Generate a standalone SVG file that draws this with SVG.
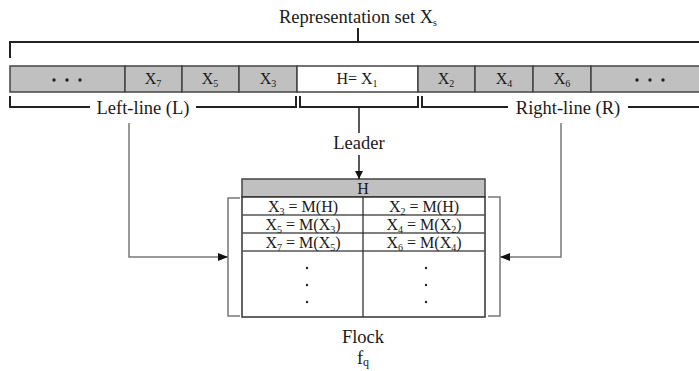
<svg xmlns="http://www.w3.org/2000/svg" width="699" height="371" viewBox="0 0 699 371">
<style>
.t{font-family:"Liberation Serif","Times New Roman",serif;fill:#1a1a1a}
.lbl{font-size:18.5px}
.c{font-size:16px}
.s{font-size:10px}
.br{fill:none;stroke:#222;stroke-width:2}
.cell{fill:#c0c0c0;stroke:#444;stroke-width:1.5}
.w{fill:#fff;stroke:#444;stroke-width:1.5}
.con{fill:none;stroke:#777;stroke-width:1.5}
.tl{stroke:#555;stroke-width:1.5}
.dot{fill:#222}
</style>
<defs>
<marker id="ah" viewBox="0 0 10 10" refX="10" refY="5" markerWidth="8" markerHeight="8" markerUnits="userSpaceOnUse" orient="auto"><path d="M0,0 L10,5 L0,10 z" fill="#111"/></marker>
<marker id="ah2" viewBox="0 0 10 10" refX="10" refY="5" markerWidth="10" markerHeight="10" markerUnits="userSpaceOnUse" orient="auto"><path d="M0,1 L10,5 L0,9 z" fill="#111"/></marker>
</defs>
<g id="representation-set">
<text class="t lbl" x="358" y="23" text-anchor="middle">Representation set X<tspan class="s" dy="3">s</tspan></text>
<path class="br" d="M10,58 V42 H699 M358,28 V42"/>
</g>
<g id="bar">
<rect class="cell" x="10" y="66" width="115" height="26"/>
<circle class="dot" cx="54" cy="80" r="1.7"/><circle class="dot" cx="67" cy="80" r="1.7"/><circle class="dot" cx="80" cy="80" r="1.7"/>
<rect class="cell" x="125" y="66" width="57" height="26"/>
<text class="t c" x="153" y="84" text-anchor="middle">X<tspan class="s" dy="3">7</tspan></text>
<rect class="cell" x="182" y="66" width="57" height="26"/>
<text class="t c" x="210" y="84" text-anchor="middle">X<tspan class="s" dy="3">5</tspan></text>
<rect class="cell" x="239" y="66" width="58" height="26"/>
<text class="t c" x="268" y="84" text-anchor="middle">X<tspan class="s" dy="3">3</tspan></text>
<rect class="w" x="297" y="66" width="121" height="26"/>
<text class="t c" x="357" y="84" text-anchor="middle">H= X<tspan class="s" dy="3">1</tspan></text>
<rect class="cell" x="418" y="66" width="57" height="26"/>
<text class="t c" x="446" y="84" text-anchor="middle">X<tspan class="s" dy="3">2</tspan></text>
<rect class="cell" x="475" y="66" width="58" height="26"/>
<text class="t c" x="504" y="84" text-anchor="middle">X<tspan class="s" dy="3">4</tspan></text>
<rect class="cell" x="533" y="66" width="58" height="26"/>
<text class="t c" x="562" y="84" text-anchor="middle">X<tspan class="s" dy="3">6</tspan></text>
<rect class="cell" x="591" y="66" width="110" height="26"/>
<circle class="dot" cx="637" cy="80" r="1.7"/><circle class="dot" cx="650" cy="80" r="1.7"/><circle class="dot" cx="663" cy="80" r="1.7"/>
</g>
<g id="left-line">
<path class="br" d="M10,96 V107 H90 M196,107 H296 V96"/>
<text class="t lbl" x="143" y="114" text-anchor="middle">Left-line (L)</text>
</g>
<g id="leader-bracket">
<path class="br" d="M300,96 V107 H418 V96"/>
<text class="t lbl" x="359" y="149" text-anchor="middle">Leader</text>
</g>
<g id="right-line">
<path class="br" d="M422,96 V107 H508 M628,107 H699"/>
<text class="t lbl" x="568" y="114" text-anchor="middle">Right-line (R)</text>
</g>
<g id="flock">
<rect x="242" y="179" width="243" height="18" fill="#c0c0c0" stroke="#444" stroke-width="1.5"/>
<text class="t c" x="363" y="194" text-anchor="middle">H</text>
<rect x="242" y="197" width="243" height="120" fill="#fff" stroke="#333" stroke-width="1.5"/>
<line class="tl" x1="242" y1="215" x2="485" y2="215"/>
<line class="tl" x1="242" y1="233" x2="485" y2="233"/>
<line class="tl" x1="242" y1="251" x2="485" y2="251"/>
<line x1="363" y1="197" x2="363" y2="317" stroke="#222" stroke-width="1.2"/>
<text class="t c" x="303" y="212" text-anchor="middle">X<tspan class="s" dy="3">3</tspan><tspan dy="-3"> = M(H)</tspan></text>
<text class="t c" x="303" y="230" text-anchor="middle">X<tspan class="s" dy="3">5</tspan><tspan dy="-3"> = M(X</tspan><tspan class="s" dy="3">3</tspan><tspan dy="-3">)</tspan></text>
<text class="t c" x="303" y="248" text-anchor="middle">X<tspan class="s" dy="3">7</tspan><tspan dy="-3"> = M(X</tspan><tspan class="s" dy="3">5</tspan><tspan dy="-3">)</tspan></text>
<text class="t c" x="424" y="212" text-anchor="middle">X<tspan class="s" dy="3">2</tspan><tspan dy="-3"> = M(H)</tspan></text>
<text class="t c" x="424" y="230" text-anchor="middle">X<tspan class="s" dy="3">4</tspan><tspan dy="-3"> = M(X</tspan><tspan class="s" dy="3">2</tspan><tspan dy="-3">)</tspan></text>
<text class="t c" x="424" y="248" text-anchor="middle">X<tspan class="s" dy="3">6</tspan><tspan dy="-3"> = M(X</tspan><tspan class="s" dy="3">4</tspan><tspan dy="-3">)</tspan></text>
<circle class="dot" cx="307" cy="268" r="1.2"/><circle class="dot" cx="307" cy="285" r="1.2"/><circle class="dot" cx="307" cy="302" r="1.2"/>
<circle class="dot" cx="426" cy="268" r="1.2"/><circle class="dot" cx="426" cy="285" r="1.2"/><circle class="dot" cx="426" cy="302" r="1.2"/>
<path class="con" d="M240,198 H228 V316 H240"/>
<path class="con" d="M488,197 H500 V316 H488"/>
<text class="t lbl" x="363" y="343" text-anchor="middle">Flock</text>
<text class="t lbl" x="363" y="364" text-anchor="middle">f<tspan font-size="12" dy="2">q</tspan></text>
</g>
<g id="connectors">
<line x1="359" y1="107" x2="359" y2="133" stroke="#222" stroke-width="1.5"/>
<line x1="359" y1="155" x2="359" y2="179" stroke="#222" stroke-width="1.5" marker-end="url(#ah)"/>
<path class="con" d="M129,123 V257 H228" marker-end="url(#ah2)"/>
<path class="con" d="M561,123 V257 H500" marker-end="url(#ah2)"/>
</g>
</svg>
